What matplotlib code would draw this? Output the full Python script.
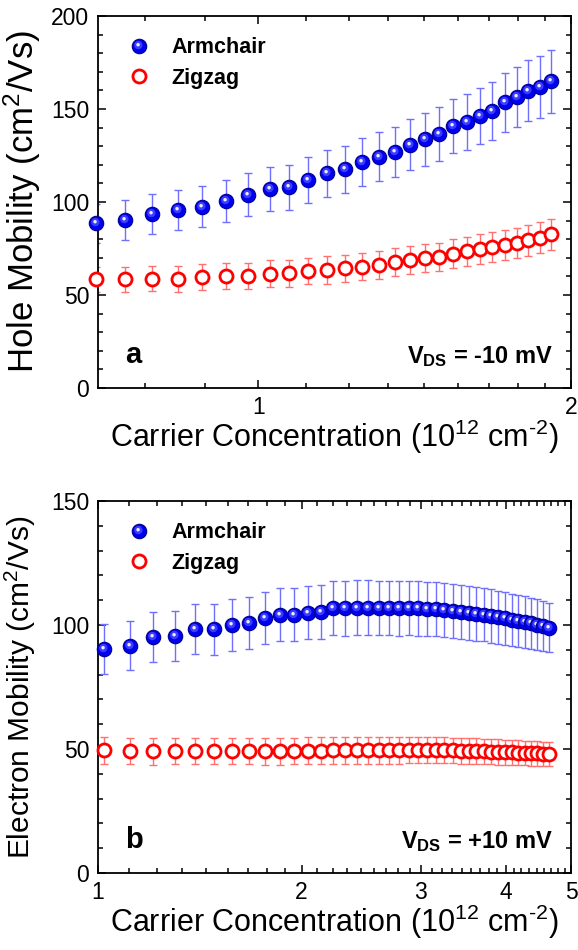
import numpy as np
import matplotlib
matplotlib.use('Agg')
import matplotlib.pyplot as plt
from matplotlib.path import Path
from matplotlib.lines import Line2D
from matplotlib.legend_handler import HandlerTuple
from matplotlib.ticker import FixedLocator, NullFormatter, MultipleLocator

plt.rcParams['font.family'] = ['Liberation Sans', 'DejaVu Sans']
plt.rcParams['mathtext.fontset'] = 'custom'
plt.rcParams['mathtext.rm'] = 'Liberation Sans'
plt.rcParams['mathtext.it'] = 'Liberation Sans:italic'
plt.rcParams['mathtext.bf'] = 'Liberation Sans:bold'

# panel a: holes, V_DS = -10 mV
n_hole = [0.698, 0.744, 0.790, 0.837, 0.883, 0.931, 0.978, 1.025, 1.071, 1.117,
          1.163, 1.211, 1.257, 1.306, 1.353, 1.398, 1.446, 1.492, 1.539, 1.587,
          1.634, 1.678, 1.727, 1.774, 1.818, 1.866, 1.913]
mu_hole_arm = [88.5, 90.3, 93.4, 95.7, 97.5, 100.5, 103.8, 106.8, 107.9, 111.8,
               115.4, 117.6, 121.5, 124.4, 126.9, 130.8, 133.7, 136.6, 140.9, 143.0,
               146.2, 149.1, 153.6, 156.6, 159.8, 162.0, 164.9]
err_hole_arm = [10.4, 10.6, 10.8, 11.0, 11.2, 11.4, 11.6, 11.9, 12.0, 12.3,
                12.5, 12.7, 12.9, 13.1, 13.4, 13.8, 14.1, 14.4, 14.7, 15.0,
                15.3, 15.6, 16.0, 16.2, 16.5, 16.7, 16.9]
mu_hole_zig = [58.4, 58.4, 58.8, 58.8, 59.5, 60.4, 60.2, 61.5, 61.7, 62.9,
               63.4, 64.4, 65.2, 66.0, 67.7, 68.7, 69.7, 70.4, 72.2, 73.5,
               74.7, 75.8, 76.7, 78.0, 79.4, 80.8, 82.6]
err_hole_zig = [6.9, 6.9, 6.9, 7.0, 7.0, 7.0, 7.1, 7.1, 7.2, 7.2,
                7.3, 7.3, 7.4, 7.4, 7.5, 7.5, 7.5, 7.6, 7.7, 7.8,
                7.9, 8.0, 8.0, 8.1, 8.2, 8.4, 8.5]

# panel b: electrons, V_DS = +10 mV
n_elec = [1.022, 1.115, 1.208, 1.300, 1.393, 1.486, 1.579, 1.672, 1.764, 1.857,
          1.950, 2.043, 2.136, 2.228, 2.321, 2.414, 2.507, 2.600, 2.692, 2.785,
          2.878, 2.971, 3.064, 3.156, 3.249, 3.342, 3.435, 3.528, 3.620, 3.713,
          3.806, 3.899, 3.992, 4.084, 4.177, 4.270, 4.363, 4.456, 4.548, 4.641]
mu_elec_arm = [90.3, 91.7, 95.3, 95.7, 98.3, 98.3, 100.0, 100.9, 102.8, 104.2,
               104.2, 105.0, 105.4, 106.7, 106.7, 107.0, 107.0, 106.8, 106.8, 106.7,
               106.8, 106.7, 106.4, 106.4, 106.0, 105.8, 105.3, 104.9, 104.5, 104.1,
               103.6, 103.1, 102.6, 102.1, 101.6, 101.1, 100.6, 100.1, 99.6, 98.9]
err_elec_arm = [9.9, 9.9, 10.1, 10.1, 10.2, 10.3, 10.4, 10.5, 10.6, 10.7,
                10.8, 10.8, 10.9, 10.9, 11.0, 11.0, 11.0, 11.0, 11.0, 11.0,
                11.0, 11.0, 11.0, 11.0, 11.0, 10.9, 10.9, 10.8, 10.8, 10.7,
                10.7, 10.6, 10.6, 10.5, 10.4, 10.4, 10.3, 10.2, 10.1, 10.0]
mu_elec_zig = [49.4, 49.2, 49.1, 49.2, 49.2, 49.2, 49.2, 49.2, 49.1, 49.1,
               49.2, 49.3, 49.3, 49.4, 49.4, 49.5, 49.5, 49.5, 49.5, 49.5,
               49.6, 49.6, 49.6, 49.5, 49.5, 49.4, 49.3, 49.2, 49.1, 49.0,
               48.9, 48.8, 48.7, 48.6, 48.5, 48.4, 48.3, 48.2, 48.1, 48.0]
err_elec_zig = [5.4, 5.4, 5.4, 5.4, 5.4, 5.4, 5.4, 5.4, 5.4, 5.4,
                5.4, 5.4, 5.4, 5.4, 5.4, 5.4, 5.4, 5.4, 5.4, 5.4,
                5.3, 5.3, 5.3, 5.3, 5.3, 5.2, 5.2, 5.2, 5.2, 5.1,
                5.1, 5.1, 5.1, 5.0, 5.0, 5.0, 5.0, 4.9, 4.9, 4.9]


def spot(cx, cy, r):
    # small disc inside the unit marker box, used for the shaded-ball look
    t = np.linspace(0, 2 * np.pi, 40)
    verts = np.column_stack([cx + r * np.cos(t), cy + r * np.sin(t)])
    verts = np.vstack([verts, [[-1, -1], [1, 1]]])
    codes = [Path.MOVETO] + [Path.LINETO] * 38 + [Path.CLOSEPOLY] + [Path.MOVETO, Path.MOVETO]
    return Path(verts, codes)


MS = 10.4
glow = spot(-0.16, 0.2, 0.58)
shine = spot(-0.2, 0.25, 0.24)
ball_styles = [dict(marker='o', ms=MS, mfc='#0000f0', mec='#000090', mew=0.8),
               dict(marker=glow, ms=MS, mfc='#3c3cff', mew=0),
               dict(marker=shine, ms=MS, mfc='#ececff', mew=0)]
ring_style = dict(marker='o', ms=9.4, mfc='white', mec='#ff0000', mew=2.0, ls='none')


def draw_panel(ax, n, arm, arm_err, zig, zig_err):
    ax.errorbar(n, arm, yerr=arm_err, fmt='none', ecolor='#7070ff', elinewidth=1,
                capsize=2.6, capthick=1, zorder=2)
    ax.errorbar(n, zig, yerr=zig_err, fmt='none', ecolor='#ff7070', elinewidth=1,
                capsize=2.6, capthick=1, zorder=2)
    ax.plot(n, zig, zorder=3, clip_on=False, **ring_style)
    for xi, yi in zip(n, arm):
        for st in ball_styles:
            ax.plot([xi], [yi], ls='none', zorder=4, clip_on=False, **st)
    handles = [tuple(Line2D([], [], ls='none', **st) for st in ball_styles),
               Line2D([], [], **ring_style)]
    ax.legend(handles, ['Armchair', 'Zigzag'], loc='upper left', frameon=False,
              handler_map={tuple: HandlerTuple(ndivide=1)},
              prop={'weight': 'bold', 'size': 15.5}, handlelength=1.0,
              handletextpad=1.0, labelspacing=0.42, borderaxespad=0.6,
              bbox_to_anchor=(0.02, 1.0))


def style_axes(ax):
    ax.set_xscale('log')
    ax.tick_params(which='both', direction='in', top=True, right=True, width=1.1,
                   labelsize=16.5)
    ax.tick_params(which='major', length=6, pad=6)
    ax.tick_params(which='minor', length=3.5)
    ax.yaxis.set_minor_locator(MultipleLocator(10))
    ax.yaxis.set_major_locator(MultipleLocator(50))
    for s in ax.spines.values():
        s.set_linewidth(1.3)


fig = plt.figure(figsize=(5.78, 9.5), dpi=100)
ax1 = fig.add_axes([0.1687, 0.5916, 0.8196, 0.3916])
ax2 = fig.add_axes([0.1687, 0.0811, 0.8196, 0.3916])

draw_panel(ax1, n_hole, mu_hole_arm, err_hole_arm, mu_hole_zig, err_hole_zig)
draw_panel(ax2, n_elec, mu_elec_arm, err_elec_arm, mu_elec_zig, err_elec_zig)

style_axes(ax1)
style_axes(ax2)

ax1.set_xlim(0.7, 2)
ax1.set_ylim(0, 200)
ax1.xaxis.set_major_locator(FixedLocator([1, 2]))
ax1.xaxis.set_minor_locator(FixedLocator([1 - i / 9 for i in (1, 2)] + [1 + i / 9 for i in range(1, 9)]))
ax1.set_xticklabels(['1', '2'])
ax1.xaxis.set_minor_formatter(NullFormatter())

ax2.set_xlim(1, 5)
ax2.set_ylim(0, 150)
ax2.xaxis.set_major_locator(FixedLocator([1, 2, 3, 4, 5]))
ax2.xaxis.set_minor_locator(FixedLocator([k + i / 9 for k in range(1, 5) for i in range(1, 9)]))
ax2.set_xticklabels(['1', '2', '3', '4', '5'])
ax2.xaxis.set_minor_formatter(NullFormatter())

xlab = r'Carrier Concentration (10$^{12}$ cm$^{\text{-}2}$)'
ax1.set_xlabel(xlab, fontsize=22)
ax2.set_xlabel(xlab, fontsize=22)
ax1.set_ylabel('Hole Mobility (cm$^{2}$/Vs)', fontsize=25)
ax2.set_ylabel('Electron Mobility (cm$^{2}$/Vs)', fontsize=21.5)
for ax in (ax1, ax2):
    ax.xaxis.set_label_coords(0.5, -0.08)
ax1.yaxis.set_label_coords(-0.115, 0.5)
ax2.yaxis.set_label_coords(-0.125, 0.5)

ax1.text(0.058, 0.068, 'a', transform=ax1.transAxes, fontsize=21, fontweight='bold')
ax1.text(0.962, 0.068, r'V$_{\mathbf{DS}}$ = -10 mV', transform=ax1.transAxes,
         fontsize=17, fontweight='bold', ha='right')
ax2.text(0.058, 0.068, 'b', transform=ax2.transAxes, fontsize=21, fontweight='bold')
ax2.text(0.962, 0.068, r'V$_{\mathbf{DS}}$ = +10 mV', transform=ax2.transAxes,
         fontsize=17, fontweight='bold', ha='right')

fig.savefig('out.png', dpi=100)
